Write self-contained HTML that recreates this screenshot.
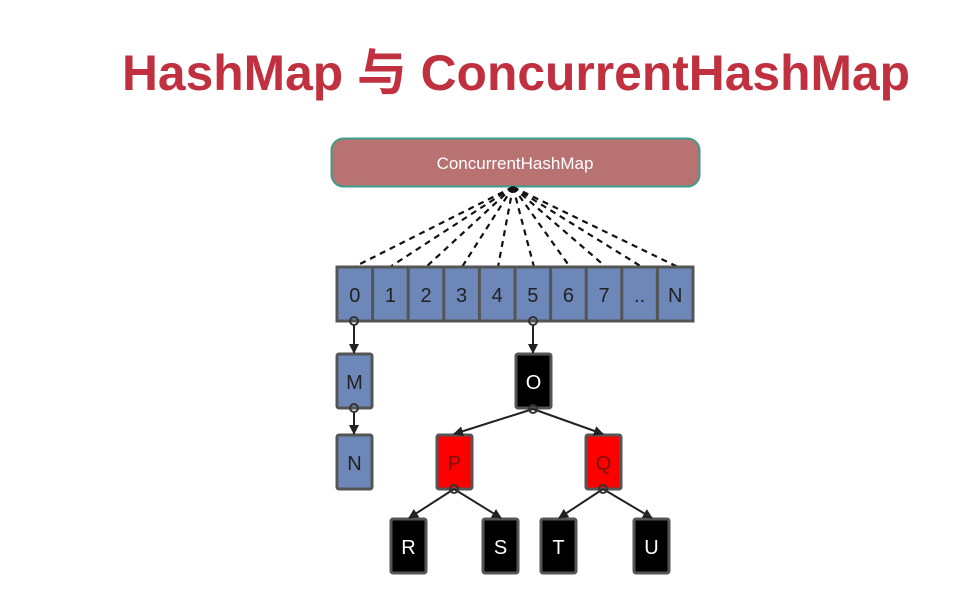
<!DOCTYPE html>
<html><head><meta charset="utf-8"><style>
html,body{margin:0;padding:0;background:#fff;width:972px;height:598px;overflow:hidden}
</style></head><body>
<svg width="972" height="598" viewBox="0 0 972 598" xmlns="http://www.w3.org/2000/svg">
<defs>
<marker id="ah" markerWidth="10" markerHeight="10" refX="9" refY="5" orient="auto" markerUnits="userSpaceOnUse">
<path d="M0,0 L10,5 L0,10 z" fill="#222"/>
</marker>
</defs>
<text x="122" y="90" font-family="Liberation Sans, Noto Sans CJK SC, sans-serif" font-weight="bold" font-size="50" fill="#c0303f" textLength="788" lengthAdjust="spacingAndGlyphs">HashMap 与 ConcurrentHashMap</text>

<rect x="331.5" y="138.5" width="368" height="48" rx="12" fill="#b97272" stroke="#3f9c8c" stroke-width="2"/>
<text x="515" y="169" text-anchor="middle" font-family="Liberation Sans, sans-serif" font-size="17" fill="#fff">ConcurrentHashMap</text>

<g stroke="#111" stroke-width="2.2" stroke-dasharray="6,5" fill="none">
<line x1="513" y1="187" x2="354" y2="267"/>
<line x1="513" y1="187" x2="390" y2="267"/>
<line x1="513" y1="187" x2="426" y2="267"/>
<line x1="513" y1="187" x2="462" y2="267"/>
<line x1="513" y1="187" x2="498" y2="267"/>
<line x1="513" y1="187" x2="534" y2="267"/>
<line x1="513" y1="187" x2="570" y2="267"/>
<line x1="513" y1="187" x2="606" y2="267"/>
<line x1="513" y1="187" x2="642" y2="267"/>
<line x1="513" y1="187" x2="678" y2="267"/>
</g>

<g stroke="#555" stroke-width="3" fill="#6d87b8">
<rect x="337" y="267" width="356" height="54"/>
</g>
<g stroke="#555" stroke-width="3">
<line x1="372.6" y1="267" x2="372.6" y2="321"/>
<line x1="408.2" y1="267" x2="408.2" y2="321"/>
<line x1="443.8" y1="267" x2="443.8" y2="321"/>
<line x1="479.4" y1="267" x2="479.4" y2="321"/>
<line x1="515" y1="267" x2="515" y2="321"/>
<line x1="550.6" y1="267" x2="550.6" y2="321"/>
<line x1="586.2" y1="267" x2="586.2" y2="321"/>
<line x1="621.8" y1="267" x2="621.8" y2="321"/>
<line x1="657.4" y1="267" x2="657.4" y2="321"/>
</g>
<g font-family="Liberation Sans, sans-serif" font-size="20" fill="#222" text-anchor="middle">
<text x="354.8" y="302">0</text><text x="390.4" y="302">1</text><text x="426" y="302">2</text>
<text x="461.6" y="302">3</text><text x="497.2" y="302">4</text><text x="532.8" y="302">5</text>
<text x="568.4" y="302">6</text><text x="604" y="302">7</text><text x="639.6" y="302">..</text>
<text x="675.2" y="302">N</text>
</g>

<!-- list M N -->
<g stroke="#555" stroke-width="3" fill="#6d87b8">
<rect x="337" y="354" width="35" height="54" rx="2"/>
<rect x="337" y="435" width="35" height="54" rx="2"/>
</g>
<g stroke="#555" stroke-width="3">
<rect x="516" y="354" width="35" height="54" rx="2" fill="#000"/>
<rect x="437" y="435" width="35" height="54" rx="2" fill="#f00"/>
<rect x="586" y="435" width="35" height="54" rx="2" fill="#f00"/>
<rect x="391" y="519" width="35" height="54" rx="2" fill="#000"/>
<rect x="483" y="519" width="35" height="54" rx="2" fill="#000"/>
<rect x="541" y="519" width="35" height="54" rx="2" fill="#000"/>
<rect x="634" y="519" width="35" height="54" rx="2" fill="#000"/>
</g>

<g stroke="#222" stroke-width="2" fill="none" marker-end="url(#ah)">
<line x1="354" y1="325" x2="354" y2="353"/>
<line x1="533" y1="325" x2="533" y2="353"/>
<line x1="354" y1="412" x2="354" y2="434"/>
<line x1="533" y1="409" x2="454" y2="434"/>
<line x1="533" y1="409" x2="603" y2="434"/>
<line x1="454" y1="489" x2="409" y2="518"/>
<line x1="454" y1="489" x2="501" y2="518"/>
<line x1="603" y1="489" x2="559" y2="518"/>
<line x1="603" y1="489" x2="652" y2="518"/>
</g>
<g stroke="#333" stroke-width="2" fill="none">
<circle cx="354" cy="321" r="4"/>
<circle cx="533" cy="321" r="4"/>
<circle cx="354" cy="408" r="4"/>
<circle cx="533" cy="409" r="4"/>
<circle cx="454" cy="489" r="4"/>
<circle cx="603" cy="489" r="4"/>
</g>

<g font-family="Liberation Sans, sans-serif" font-size="20" text-anchor="middle">
<text x="354.5" y="389" fill="#222">M</text>
<text x="354.5" y="470" fill="#222">N</text>
<text x="533.5" y="389" fill="#fff">O</text>
<text x="454.5" y="470" fill="#7a1010">P</text>
<text x="603.5" y="470" fill="#7a1010">Q</text>
<text x="408.5" y="554" fill="#fff">R</text>
<text x="500.5" y="554" fill="#fff">S</text>
<text x="558.5" y="554" fill="#fff">T</text>
<text x="651.5" y="554" fill="#fff">U</text>
</g>
</svg>
</body></html>
